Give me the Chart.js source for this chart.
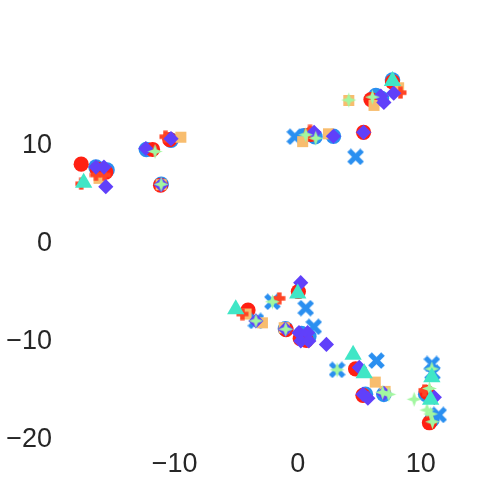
<!doctype html>
<html>
<head>
<meta charset="utf-8">
<style>
  html, body { margin: 0; padding: 0; background: #fff; }
  #wrap { width: 504px; height: 504px; }
</style>
<script src="https://cdn.jsdelivr.net/npm/chart.js@4"></script>
</head>
<body>
<div id="wrap"><canvas id="c" width="504" height="504"></canvas></div>
<script>
// tick labels
const xTicks = [-10, 0, 10];
const yTicks = [-20, -10, 0, 10];

// points per group, [x, y]
const blueCircle = [
  [-16.4, 7.8], [-15.5, 7.5], [-12.3, 9.6], [-10.3, 10.55], [-11.1, 6.05],
  [0.5, 11.0], [1.4, 10.9], [2.9, 10.95], [6.35, 15.1], [6.8, 14.8], [7.7, 16.7],
  [-1.0, -8.7], [0.3, -9.2], [0.9, -9.5], [5.5, -15.4], [7.0, -15.4],
  [10.4, -15.4], [10.9, -18.0]
];
const redCircle = [
  [-17.6, 8.1], [-16.3, 7.6], [-15.6, 7.3], [-11.8, 9.6], [-10.4, 10.6], [-11.15, 5.95],
  [1.06, 11.15], [5.35, 11.35], [5.95, 14.7], [7.7, 16.5],
  [0.05, -4.9], [-4.04, -6.8], [-0.95, -8.8], [0.2, -9.7], [0.7, -9.9],
  [4.7, -12.8], [5.3, -15.5], [10.5, -15.2], [10.7, -18.3]
];
const blueX = [
  [-0.24, 10.9], [4.7, 8.85], [0.65, -6.6], [-2.06, -5.95], [-3.4, -7.9], [1.3, -8.5],
  [3.2, -12.9], [6.4, -11.95], [10.9, -12.3], [10.95, -13.2], [11.45, -17.5]
];
const orangeSquare = [
  [-16.15, 6.65], [-9.5, 10.85], [-11.1, 6.0], [0.4, 10.4], [2.5, 11.2], [4.15, 14.6],
  [6.2, 14.1], [8.2, 15.9], [-4.2, -7.2], [-2.87, -8.1], [-1.1, -8.6],
  [6.3, -14.15], [7.1, -15.1]
];
const redPlus = [
  [-17.6, 6.1], [-16.4, 7.0], [-15.7, 7.0], [-10.75, 10.9], [1.0, 11.5], [8.35, 15.4],
  [-1.5, -5.6], [-4.5, -7.2], [10.3, -15.0]
];
const purpleDiamond = [
  [-16.4, 7.8], [-15.75, 7.8], [-15.6, 5.8], [-12.35, 9.7], [-10.3, 10.7], [-11.1, 6.0],
  [2.9, 10.95], [1.33, 11.35], [5.35, 11.35], [6.75, 15.05], [7.0, 14.4], [7.8, 15.35],
  [0.24, -4.0], [-3.4, -7.9], [-1.0, -8.75], [0.1, -9.1], [0.8, -9.1], [0.25, -9.95],
  [0.9, -9.95], [2.33, -10.3], [5.0, -12.65], [5.3, -15.4], [5.7, -15.8], [7.0, -15.3],
  [11.1, -15.7]
];
const greenStar = [
  [-11.6, 9.4], [-11.1, 6.05], [0.65, 11.1], [1.46, 10.75], [4.15, 14.65], [6.07, 14.95],
  [-2.06, -5.95], [-3.4, -7.9], [-0.98, -8.75], [3.2, -12.9], [6.9, -15.2], [7.4, -15.4],
  [9.46, -15.9], [10.9, -12.8], [10.7, -14.8], [10.5, -17.0], [10.8, -17.4], [10.95, -18.2]
];
const cyanTriangle = [
  [-17.4, 6.2], [7.7, 16.6], [0.0, -5.1], [-5.04, -6.7], [4.5, -11.35], [5.4, -13.25],
  [10.9, -13.65], [10.8, -15.95]
];

const RED = "#ff2012", BLUE = "#2a8ff0", ORANGE = "#f8bd6e", REDP = "#ff4424",
      CYAN = "#40e6c6", PURPLE = "#6040fa", GREEN = "#a2f7a0";

// custom marker images
function makeX(color) {
  const c = document.createElement("canvas");
  c.width = 17; c.height = 17;
  const g = c.getContext("2d");
  g.strokeStyle = color; g.lineWidth = 5.2; g.lineCap = "butt";
  g.beginPath();
  g.moveTo(2, 2); g.lineTo(15, 15);
  g.moveTo(15, 2); g.lineTo(2, 15);
  g.stroke();
  return c;
}
function makePlus(color) {
  const c = document.createElement("canvas");
  c.width = 13; c.height = 13;
  const g = c.getContext("2d");
  g.fillStyle = color;
  g.fillRect(4.25, 0.5, 4.5, 12);
  g.fillRect(0.5, 4.25, 12, 4.5);
  return c;
}
function makeStar(color) {
  const R = 7.5, r = 2.8, s = 17;
  const c = document.createElement("canvas");
  c.width = s; c.height = s;
  const g = c.getContext("2d");
  g.fillStyle = color;
  g.beginPath();
  for (let i = 0; i < 8; i++) {
    const a = -Math.PI / 2 + i * Math.PI / 4;
    const rr = i % 2 === 0 ? R : r;
    const px = s / 2 + rr * Math.cos(a), py = s / 2 + rr * Math.sin(a);
    if (i === 0) g.moveTo(px, py); else g.lineTo(px, py);
  }
  g.closePath();
  g.fill();
  return c;
}

const toXY = (arr) => arr.map(([x, y]) => ({ x, y }));

function ds(data, color, style, radius, order) {
  return {
    data: toXY(data),
    pointStyle: style,
    pointRadius: radius,
    pointBackgroundColor: color,
    pointBorderColor: color,
    pointBorderWidth: 0,
    order: order,
    showLine: false
  };
}

const datasets = [
  ds(blueCircle, BLUE, "circle", 7.8, 8),
  ds(redCircle, RED, "circle", 7.6, 7),
  ds(blueX, BLUE, makeX(BLUE), 6, 6),
  ds(orangeSquare, ORANGE, "rect", 7.8, 5),
  ds(redPlus, REDP, makePlus(REDP), 6, 4),
  ds(purpleDiamond, PURPLE, "rectRot", 7.6, 3),
  ds(greenStar, GREEN, makeStar(GREEN), 6, 2),
  ds(cyanTriangle, CYAN, "triangle", 10, 1)
];

const fmt = (v) => String(v).replace("-", "\u2212");
const tickFont = { family: "'Liberation Sans', Arial, sans-serif", size: 27 };
const noPad = (s) => { s.paddingTop = 0; s.paddingBottom = 0; s.paddingLeft = 0; s.paddingRight = 0; };

new Chart(document.getElementById("c"), {
  type: "scatter",
  data: { datasets },
  options: {
    responsive: false,
    animation: false,
    events: [],
    layout: { padding: { left: 0, top: 10, right: 4, bottom: 0 } },
    plugins: { legend: { display: false }, tooltip: { enabled: false } },
    scales: {
      x: {
        type: "linear",
        min: -19.16, max: 15.95,
        grid: { display: false, drawTicks: false },
        border: { display: false },
        ticks: { font: tickFont, color: "#262626", padding: 8, callback: fmt, maxRotation: 0 },
        afterBuildTicks: (s) => { s.ticks = xTicks.map((v) => ({ value: v })); },
        afterFit: (s) => { s.height = 64; noPad(s); }
      },
      y: {
        type: "linear",
        min: -20.06, max: 23.84,
        grid: { display: false, drawTicks: false },
        border: { display: false },
        ticks: { font: tickFont, color: "#262626", padding: 10, callback: fmt },
        afterBuildTicks: (s) => { s.ticks = yTicks.map((v) => ({ value: v })); },
        afterFit: (s) => { s.width = 62; noPad(s); }
      }
    }
  }
});
</script>
</body>
</html>
